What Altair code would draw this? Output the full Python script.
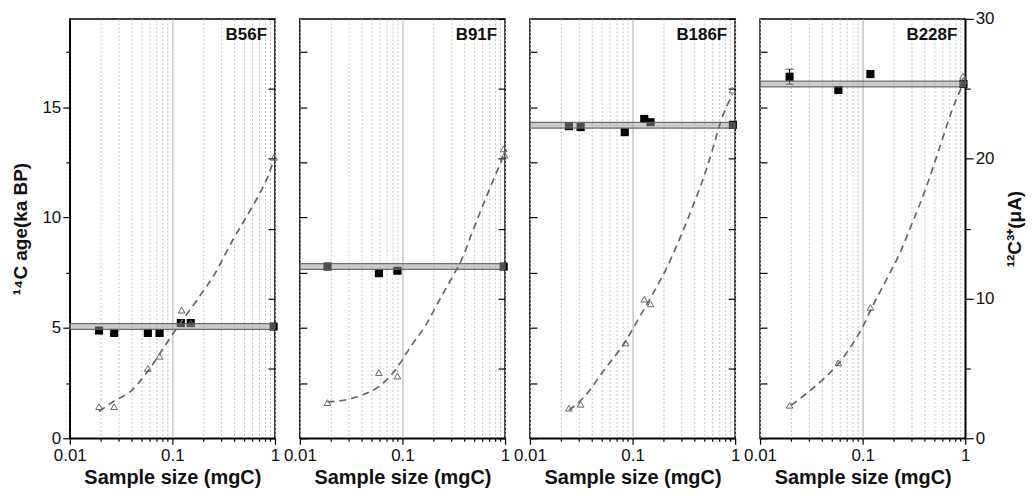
import altair as alt
import pandas as pd

PANELS = ["B56F", "B91F", "B186F", "B228F"]

# ---- 14C ages (ka BP), black squares ----
B56F_SIZE = [0.0193, 0.0271, 0.0577, 0.075, 0.121, 0.151, 0.97]
B56F_AGE = [4.88, 4.77, 4.77, 4.77, 5.22, 5.22, 5.06]
B56F_ERR = [0.08, 0.08, 0.08, 0.08, 0.08, 0.08, 0.08]
B56F_MEAN = 5.06

B91F_SIZE = [0.0186, 0.0589, 0.0894, 0.97]
B91F_AGE = [7.78, 7.48, 7.59, 7.78]
B91F_ERR = [0.08, 0.08, 0.08, 0.08]
B91F_MEAN = 7.78

B186F_SIZE = [0.024, 0.0312, 0.084, 0.13, 0.1497, 0.95]
B186F_AGE = [14.14, 14.10, 13.87, 14.47, 14.32, 14.20]
B186F_ERR = [0.12, 0.12, 0.08, 0.08, 0.08, 0.08]
B186F_MEAN = 14.18

B228F_SIZE = [0.0194, 0.058, 0.119, 0.96]
B228F_AGE = [16.38, 15.78, 16.50, 16.05]
B228F_ERR = [0.34, 0.08, 0.08, 0.08]
B228F_MEAN = 16.05

BAND_HALF = 0.13

# ---- 12C3+ current (uA), open triangles ----
B56F_CUR_SIZE = [0.0193, 0.0271, 0.0577, 0.075, 0.123, 0.151, 0.98]
B56F_CUR = [2.26, 2.26, 5.0, 5.87, 9.17, 8.24, 20.1]
B91F_CUR_SIZE = [0.0186, 0.0589, 0.0894, 0.97, 0.99]
B91F_CUR = [2.55, 4.69, 4.45, 20.7, 20.27]
B186F_CUR_SIZE = [0.024, 0.0312, 0.0855, 0.13, 0.1497, 0.94]
B186F_CUR = [2.15, 2.43, 6.82, 9.95, 9.62, 24.9]
B228F_CUR_SIZE = [0.0194, 0.058, 0.119, 0.95, 0.96]
B228F_CUR = [2.36, 5.4, 9.36, 25.9, 25.6]

# ---- dashed fit curves ----
B56F_FIT_SIZE = [0.0193, 0.0271, 0.0395, 0.0577, 0.0906, 0.123, 0.179, 0.261, 0.38, 0.6, 0.72, 0.873, 0.977]
B56F_FIT = [1.91, 2.67, 3.38, 4.8, 6.94, 8.36, 10.02, 11.8, 14.06, 16.55, 17.6, 18.9, 20.0]
B91F_FIT_SIZE = [0.0186, 0.0277, 0.0404, 0.0589, 0.0859, 0.121, 0.17, 0.23, 0.31, 0.389, 0.46, 0.673, 0.98]
B91F_FIT = [2.6, 2.74, 3.1, 3.69, 4.92, 6.58, 8.13, 9.91, 11.6, 13.0, 14.4, 17.45, 20.3]
B186F_FIT_SIZE = [0.024, 0.0344, 0.0518, 0.0855, 0.118, 0.159, 0.214, 0.289, 0.39, 0.526, 0.61, 0.71, 0.942]
B186F_FIT = [2.0, 3.02, 4.8, 6.94, 8.72, 10.38, 12.16, 14.3, 16.67, 19.27, 20.8, 22.48, 24.6]
B228F_FIT_SIZE = [0.0201, 0.029, 0.0418, 0.058, 0.0809, 0.1007, 0.121, 0.168, 0.226, 0.303, 0.406, 0.544, 0.73, 0.944]
B228F_FIT = [2.36, 3.26, 4.26, 5.33, 6.82, 8.0, 9.24, 11.26, 13.11, 15.36, 17.73, 20.46, 23.3, 25.3]

# ---- axes ----
X_DOMAIN = [0.01, 1]
X_MAJOR = [0.01, 0.1, 1]
X_MAJOR_LABELS = ["0.01", "0.1", "1"]
X_MINOR = [0.02, 0.03, 0.04, 0.05, 0.06, 0.07, 0.08, 0.09,
           0.2, 0.3, 0.4, 0.5, 0.6, 0.7, 0.8, 0.9]
Y_LEFT_DOMAIN = [0, 19]
Y_LEFT_TICKS = [0, 2.5, 5, 7.5, 10, 12.5, 15, 17.5]
Y_RIGHT_DOMAIN = [0, 30]
Y_RIGHT_TICKS = [0, 5, 10, 15, 20, 25, 30]

W, H = 206, 421
FONT = "Liberation Sans"

AGE_DATA = [
    (B56F_SIZE, B56F_AGE, B56F_ERR, B56F_MEAN),
    (B91F_SIZE, B91F_AGE, B91F_ERR, B91F_MEAN),
    (B186F_SIZE, B186F_AGE, B186F_ERR, B186F_MEAN),
    (B228F_SIZE, B228F_AGE, B228F_ERR, B228F_MEAN),
]
CUR_DATA = [
    (B56F_CUR_SIZE, B56F_CUR, B56F_FIT_SIZE, B56F_FIT),
    (B91F_CUR_SIZE, B91F_CUR, B91F_FIT_SIZE, B91F_FIT),
    (B186F_CUR_SIZE, B186F_CUR, B186F_FIT_SIZE, B186F_FIT),
    (B228F_CUR_SIZE, B228F_CUR, B228F_FIT_SIZE, B228F_FIT),
]

x_label_expr = " : ".join(
    f"datum.value == {v} ? '{l}'" for v, l in zip(X_MAJOR, X_MAJOR_LABELS)
) + " : ''"
x_major_test = "indexof([" + ",".join(str(v) for v in X_MAJOR) + "], datum.value) >= 0"


def x_axis():
    return alt.Axis(
        values=X_MINOR + X_MAJOR,
        labelExpr=x_label_expr,
        title="Sample size (mgC)",
        titleFontSize=20,
        titlePadding=4,
        labelFlush=False,
        labelOverlap=False,
        labelPadding=3,
        grid=True,
        gridDash={"condition": {"test": "datum.value == 0.1", "value": []}, "value": [2, 2]},
        gridColor={"condition": {"test": "datum.value == 0.1", "value": "#c4c4c4"}, "value": "#c2c2c2"},
        gridWidth={"condition": {"test": "datum.value == 0.1", "value": 1.4}, "value": 1},
        tickSize={"condition": {"test": x_major_test, "value": 6}, "value": 3},
    )


def left_axis(first):
    if first:
        return alt.Axis(
            values=Y_LEFT_TICKS,
            labelExpr="datum.value % 5 == 0 ? datum.label : ''",
            tickSize={"condition": {"test": "datum.value % 5 == 0", "value": 7}, "value": 4},
            title="¹⁴C age(ka BP)",
            titleFontSize=19,
            titlePadding=12,
            grid=False,
        )
    return alt.Axis(values=Y_LEFT_TICKS, labels=False, tickSize=7, offset=-7,
                    domain=False, title="", grid=False)


def right_axis(last):
    if last:
        return alt.Axis(
            orient="right",
            values=Y_RIGHT_TICKS,
            labelExpr="datum.value % 10 == 0 ? datum.label : ''",
            tickSize={"condition": {"test": "datum.value % 10 == 0", "value": 8}, "value": 5},
            title="¹²C³⁺(μA)",
            titleFontSize=19,
            titleAngle=270,
            titleBaseline="top",
            titlePadding=12,
            grid=False,
        )
    return alt.Axis(orient="right", values=Y_RIGHT_TICKS, labels=False, tickSize=7,
                    offset=-7, domain=False, title="", grid=False)


def make_panel(i):
    name = PANELS[i]
    size, age, err, mean = AGE_DATA[i]
    cur_size, cur, fit_size, fit = CUR_DATA[i]
    first, last = i == 0, i == len(PANELS) - 1

    xs = alt.Scale(type="log", domain=X_DOMAIN, nice=False)
    yl = alt.Scale(domain=Y_LEFT_DOMAIN, nice=False, zero=False)
    yr = alt.Scale(domain=Y_RIGHT_DOMAIN, nice=False, zero=False)
    xa = x_axis()
    la = left_axis(first)
    ra = right_axis(last)

    df_age = pd.DataFrame({"size": size, "age": age, "err": err})
    df_age["lo"] = df_age["age"] - df_age["err"]
    df_age["hi"] = df_age["age"] + df_age["err"]
    df_band = pd.DataFrame({"x": [X_DOMAIN[0]], "x2": [X_DOMAIN[1]],
                            "lo": [mean - BAND_HALF], "hi": [mean + BAND_HALF]})
    df_cur = pd.DataFrame({"size": cur_size, "cur": cur})
    df_fit = pd.DataFrame({"size": fit_size, "fit": fit})
    df_name = pd.DataFrame({"name": [name]})

    X = lambda f: alt.X(f, scale=xs, axis=xa)

    err_rule = alt.Chart(df_age).mark_rule(color="black", strokeWidth=1).encode(
        x=X("size:Q"), y=alt.Y("lo:Q", scale=yl, axis=la), y2="hi:Q")
    caps = alt.Chart(df_age).transform_fold(["lo", "hi"], as_=["k", "v"]).mark_tick(
        color="black", orient="horizontal", size=8, thickness=1).encode(
        x=X("size:Q"), y=alt.Y("v:Q", scale=yl, axis=la))
    squares = alt.Chart(df_age).mark_square(size=66, color="black", opacity=1).encode(
        x=X("size:Q"), y=alt.Y("age:Q", scale=yl, axis=la))
    band = alt.Chart(df_band).mark_rect(
        fill="#9a9a9a", fillOpacity=0.5, stroke="#5a5a5a", strokeWidth=1.3, strokeOpacity=0.85
    ).encode(x=X("x:Q"), x2="x2:Q", y=alt.Y("lo:Q", scale=yl, axis=la), y2="hi:Q")
    label = alt.Chart(df_name).mark_text(
        align="right", baseline="middle", fontWeight="bold", fontSize=17, font=FONT, color="#111"
    ).encode(text="name:N", x=alt.value(W - 8), y=alt.value(16))

    left = alt.layer(err_rule, caps, squares, band, label)

    line = alt.Chart(df_fit).mark_line(
        color="#666666", strokeDash=[7, 5], strokeWidth=1.7, interpolate="monotone"
    ).encode(x=X("size:Q"), y=alt.Y("fit:Q", scale=yr, axis=ra))
    tri = alt.Chart(df_cur).mark_point(
        shape="triangle-up", filled=False, size=44, color="#666666", strokeWidth=1, opacity=1
    ).encode(x=X("size:Q"), y=alt.Y("cur:Q", scale=yr, axis=ra))

    right = alt.layer(line, tri)
    return alt.layer(left, right).resolve_scale(y="independent").properties(width=W, height=H)


chart = alt.hconcat(*[make_panel(i) for i in range(len(PANELS))], spacing=25, bounds="flush").properties(
    padding={"left": 2, "top": 0, "right": 2, "bottom": 2}
).configure(font=FONT).configure_view(
    stroke="black", strokeWidth=1.5
).configure_axis(
    domainColor="black", domainWidth=1.5, tickColor="black", tickWidth=1.2,
    labelFont=FONT, titleFont=FONT, labelFontSize=17, labelColor="#111",
    titleFontWeight="bold", titleColor="#111",
)

chart.save("out.html", embed_options={"renderer": "svg", "actions": False})
